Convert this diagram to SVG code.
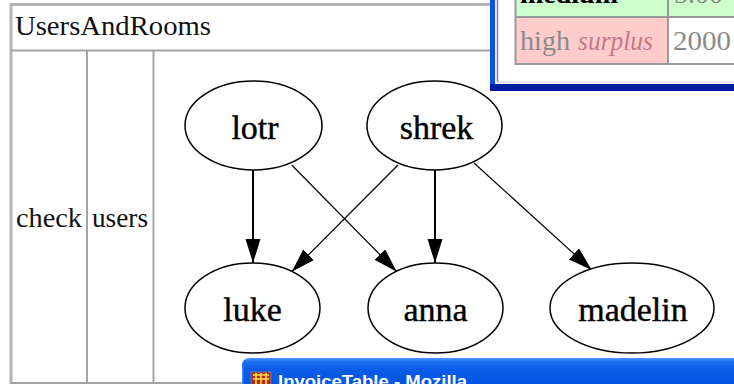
<svg xmlns="http://www.w3.org/2000/svg" width="734" height="384" viewBox="0 0 734 384">
<style>
.tb{fill:none;stroke:#a4a4a4;stroke-width:2}
.tbo{fill:none;stroke:#b4b4b4;stroke-width:3}
.cell{font-family:"Liberation Serif","Times New Roman",serif;font-size:28px;fill:#111}
.node ellipse{fill:#fff;stroke:#000;stroke-width:1.5}
.node text{font-family:"Liberation Serif","Times New Roman",serif;font-size:34px;fill:#000;text-anchor:middle;stroke:#000;stroke-width:0.4}
.edge{fill:none;stroke:#000;marker-end:url(#arr)}
.v{stroke-width:2}
.d{stroke-width:1.2}
.inv{font-family:"Liberation Serif","Times New Roman",serif;font-size:28px}
</style>
<defs>
<marker id="arr" markerUnits="userSpaceOnUse" viewBox="0 0 26 16" markerWidth="26" markerHeight="16" refX="24" refY="7.5" orient="auto">
<path d="M0,0 L24,7.5 L0,15 Z" fill="#000"/>
</marker>
<linearGradient id="title" x1="0" y1="0" x2="0" y2="1">
<stop offset="0" stop-color="#4a96ff"/>
<stop offset="0.12" stop-color="#1c6ef2"/>
<stop offset="0.35" stop-color="#0a5be6"/>
<stop offset="1" stop-color="#0055e3"/>
</linearGradient>
<linearGradient id="bframe" x1="0" y1="0" x2="0" y2="1">
<stop offset="0" stop-color="#1a62f2"/>
<stop offset="0.6" stop-color="#0a46d6"/>
<stop offset="1" stop-color="#00199a"/>
</linearGradient>
</defs>
<rect width="734" height="384" fill="#fff"/>

<!-- outer table -->
<g id="table">
<rect class="tbo" x="11" y="4.5" width="740" height="380"/>
<line class="tb" x1="11" y1="50.5" x2="734" y2="50.5"/>
<line class="tb" x1="87" y1="50" x2="87" y2="384"/>
<line class="tb" x1="153.5" y1="50" x2="153.5" y2="384"/>
<line class="tb" x1="11" y1="383" x2="250" y2="383"/>
<text class="cell" x="15" y="35" textLength="196" lengthAdjust="spacingAndGlyphs">UsersAndRooms</text>
<text class="cell" x="16" y="227" textLength="66" lengthAdjust="spacingAndGlyphs">check</text>
<text class="cell" x="92" y="227" textLength="56" lengthAdjust="spacingAndGlyphs">users</text>
</g>

<!-- connectors -->
<g id="edges">
<line class="edge v" x1="253" y1="170" x2="253" y2="263"/>
<line class="edge d" x1="291.7" y1="165" x2="396.7" y2="271.7"/>
<line class="edge d" x1="398" y1="165" x2="291.7" y2="271.7"/>
<line class="edge v" x1="435" y1="170" x2="435" y2="263"/>
<line class="edge d" x1="474" y1="163" x2="591.7" y2="270"/>
</g>

<!-- nodes -->
<g id="node-lotr" class="node">
<ellipse cx="253.5" cy="125.5" rx="68.5" ry="44.5"/>
<text x="255" y="139">lotr</text>
</g>
<g id="node-shrek" class="node">
<ellipse cx="434.5" cy="125.5" rx="67.5" ry="44.5"/>
<text x="436.5" y="139">shrek</text>
</g>
<g id="node-luke" class="node">
<ellipse cx="252.5" cy="308" rx="67.5" ry="45"/>
<text x="252.5" y="321">luke</text>
</g>
<g id="node-anna" class="node">
<ellipse cx="435.5" cy="308" rx="67.5" ry="45"/>
<text x="435.5" y="321">anna</text>
</g>
<g id="node-madelin" class="node">
<ellipse cx="632" cy="308" rx="82" ry="45"/>
<text x="633" y="321">madelin</text>
</g>

<!-- top-right overlapping window -->
<g id="window-top">
<rect x="490" y="-5" width="250" height="96" fill="url(#bframe)"/>
<rect x="490" y="-5" width="5" height="89" fill="#0a50e6"/>
<rect x="495" y="-5" width="245" height="89" fill="#f2f1ec"/>
<rect x="498" y="-5" width="242" height="87" fill="#fff"/>
<line x1="497.5" y1="-5" x2="497.5" y2="82" stroke="#8a8a8a" stroke-width="1.5"/>
<line x1="497" y1="82" x2="734" y2="82" stroke="#d4d4d4" stroke-width="1"/>
<rect x="516" y="-5" width="220" height="22" fill="#ccffcc"/>
<rect x="516" y="17" width="152" height="47" fill="#ffcccc"/>
<rect x="668" y="17" width="70" height="47" fill="#fff"/>
<line x1="515.5" y1="-5" x2="515.5" y2="65" stroke="#999" stroke-width="2"/>
<line x1="515" y1="17" x2="734" y2="17" stroke="#999" stroke-width="2"/>
<line x1="515" y1="64" x2="734" y2="64" stroke="#999" stroke-width="2"/>
<line x1="668" y1="-5" x2="668" y2="64" stroke="#999" stroke-width="2"/>
<text class="inv" x="520" y="2.5" font-weight="bold" fill="#000">medium</text>
<text class="inv" x="674" y="2.5" fill="#888">5.00</text>
<text class="inv" x="520" y="50" fill="#8a8a8a" textLength="50" lengthAdjust="spacingAndGlyphs">high</text>
<text class="inv" x="578" y="50" fill="#c47888" font-style="italic" textLength="75" lengthAdjust="spacingAndGlyphs">surplus</text>
<text class="inv" x="673" y="50" fill="#8a8a8a" textLength="58" lengthAdjust="spacingAndGlyphs">2000</text>
</g>

<!-- bottom overlapping window -->
<g id="window-bottom">
<path d="M242,390 L242,366 Q242,358 250,358 L740,358 L740,390 Z" fill="url(#title)"/>
<line x1="242.8" y1="366" x2="242.8" y2="390" stroke="#3c8af5" stroke-width="1.5"/>
<rect x="251" y="372" width="20" height="14" fill="#b03020" stroke="#6a7898" stroke-width="1"/>
<path d="M253,375 h16 M253,379 h16 M256,373 v13 M261,373 v13 M266,373 v13" stroke="#ffe040" stroke-width="1.5"/>
<text x="278" y="387.2" font-family="'Liberation Sans',Arial,sans-serif" font-size="17" font-weight="bold" fill="#fff" textLength="189" lengthAdjust="spacingAndGlyphs">InvoiceTable - Mozilla</text>
</g>
</svg>
